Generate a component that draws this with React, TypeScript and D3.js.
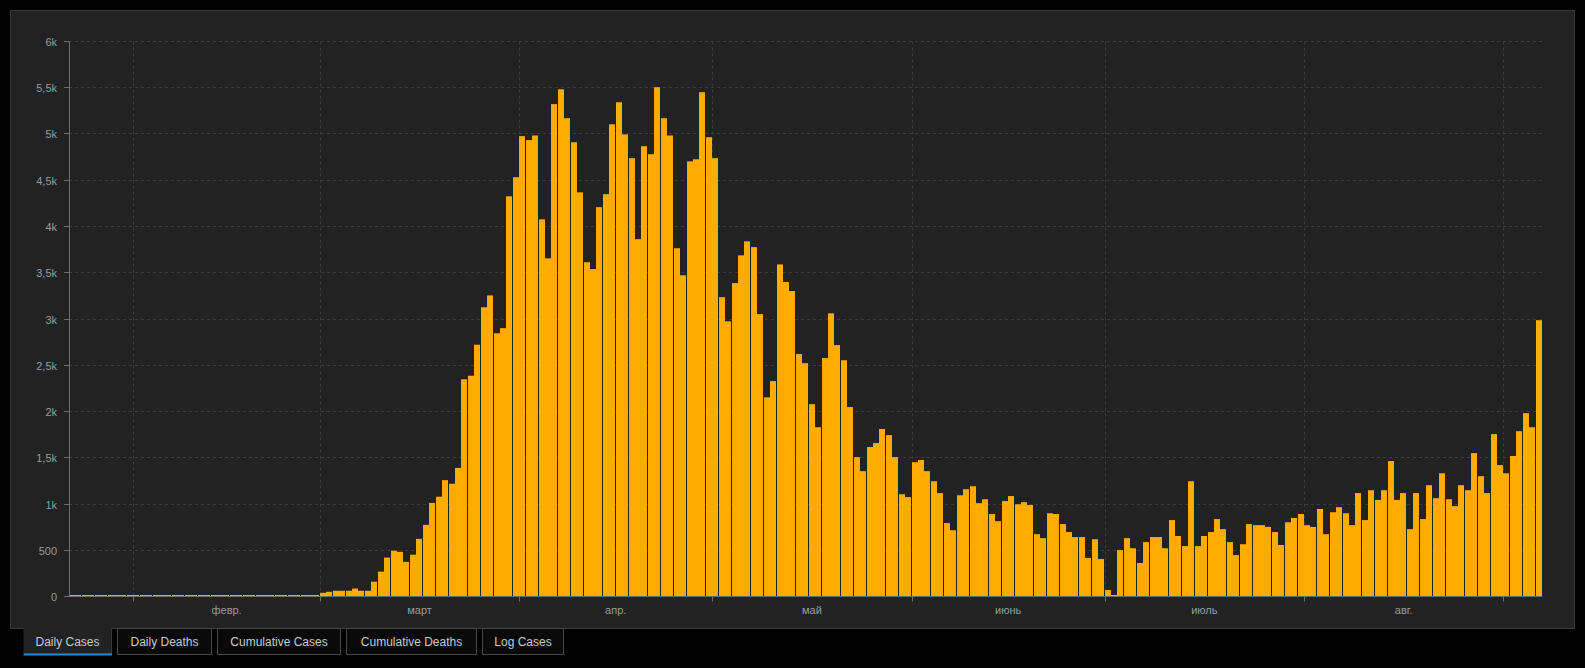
import React from "react";
import * as d3 from "d3";

// Daily cases from 2020-01-22, one value per day
const START_DATE = "2020-01-22";
const dailyCases: number[] = [
  0, 0, 0, 0, 0, 0, 0, 0, 0, 2,
  0, 0, 15, 0, 0, 1, 0, 0, 0, 4,
  0, 1, 0, 0, 0, 0, 0, 0, 0, 0,
  0, 0, 0, 0, 0, 0, 15, 15, 3, 40,
  51, 62, 62, 62, 86, 62, 62, 160, 269, 421,
  495, 483, 374, 452, 623, 775, 1012, 1079, 1258, 1219,
  1390, 2348, 2387, 2722, 3127, 3255, 2846, 2901, 4326, 4533,
  4977, 4934, 4984, 4077, 3656, 5323, 5483, 5171, 4911, 4369,
  3614, 3540, 4209, 4350, 5105, 5343, 4996, 4739, 3863, 4868,
  4782, 5506, 5171, 4984, 3765, 3473, 4704, 4727, 5452, 4965,
  4739, 3236, 2975, 3388, 3688, 3839, 3777, 3053, 2153, 2329,
  3590, 3400, 3302, 2621, 2523, 2079, 1830, 2578, 3061, 2718,
  2554, 2048, 1507, 1355, 1616, 1659, 1811, 1744, 1507, 1106,
  1075, 1452, 1476, 1355, 1246, 1118, 794, 716, 1094, 1160,
  1192, 1009, 1051, 892, 814, 1032, 1086, 997, 1020, 989,
  674, 631, 900, 892, 783, 697, 643, 643, 417, 619,
  405, 70, 16, 502, 631, 522, 362, 588, 643, 643,
  522, 826, 654, 545, 1246, 545, 654, 697, 837, 728,
  588, 448, 565, 783, 771, 771, 752, 697, 557, 802,
  849, 892, 771, 752, 946, 674, 911, 966, 900, 771,
  1118, 826, 1149, 1044, 1149, 1464, 1044, 1118, 728, 1118,
  837, 1203, 1063, 1332, 1051, 977, 1203, 1149, 1550, 1301,
  1118, 1756, 1421, 1332, 1519, 1787, 1982, 1830, 2987,
];

const yTicks: number[] = [0, 500, 1000, 1500, 2000, 2500, 3000, 3500, 4000, 4500, 5000, 5500, 6000];
const monthStarts: string[] = ["2020-02-01", "2020-03-01", "2020-04-01", "2020-05-01", "2020-06-01", "2020-07-01", "2020-08-01", "2020-09-01"];
const monthLabels: string[] = ["февр.", "март", "апр.", "май", "июнь", "июль", "авг."];
const tabLabels: string[] = ["Daily Cases", "Daily Deaths", "Cumulative Cases", "Cumulative Deaths", "Log Cases"];

const W = 1585;
const H = 668;
const PLOT = { left: 69, right: 1542, top: 41.5, bottom: 596.5 };
const PANEL = { x: 10.5, y: 10.5, x2: 1574.5, y2: 628.5 };
const TABS: [number, number][] = [
  [23.5, 111.5],
  [117.5, 211.5],
  [217.5, 340.5],
  [346.5, 476.5],
  [482.5, 563.5],
];

const DAY = 864e5;
const FONT = "'Liberation Sans', Arial, sans-serif";

const ruLocale = d3.formatLocale({ decimal: ",", thousands: "\u00a0", grouping: [3], currency: ["", " ₽"] });
const fmtK = ruLocale.format(",.1~f");
const fmtY = (v: number) => (v >= 1000 ? fmtK(v / 1000) + "k" : String(v));

export default function App() {
  const start = new Date(START_DATE + "T00:00:00Z").getTime();
  const dates = dailyCases.map((_, i) => new Date(start + i * DAY));
  const end = new Date(start + dailyCases.length * DAY);

  const x = d3.scaleUtc().domain([new Date(start), end]).range([PLOT.left, PLOT.right]);
  const y = d3.scaleLinear().domain([0, 6000]).range([PLOT.bottom, PLOT.top]);

  const months = monthStarts.map((s) => new Date(s + "T00:00:00Z"));
  const barBottom = Math.floor(PLOT.bottom);

  return (
    <svg
      width={W}
      height={H}
      style={{ position: "absolute", left: 0, top: 0, display: "block" }}
      fontFamily={FONT}
    >
      <rect x={0} y={0} width={W} height={H} fill="#000" />
      <rect
        x={PANEL.x}
        y={PANEL.y}
        width={PANEL.x2 - PANEL.x}
        height={PANEL.y2 - PANEL.y}
        fill="#222"
        stroke="#3a3a3a"
        strokeWidth={1}
      />

      {/* horizontal gridlines */}
      {yTicks.map((t) => (
        <line
          key={"gy" + t}
          x1={PLOT.left}
          x2={PLOT.right}
          y1={Math.floor(y(t)) + 0.5}
          y2={Math.floor(y(t)) + 0.5}
          stroke="#3c3c3c"
          strokeDasharray="3,3"
        />
      ))}
      {/* vertical gridlines */}
      {months.map((m, i) => {
        const gx = Math.round(x(m)) + 0.5;
        return (
          <line key={"gx" + i} x1={gx} x2={gx} y1={PLOT.top} y2={PLOT.bottom} stroke="#3c3c3c" strokeDasharray="3,3" />
        );
      })}

      {/* bars */}
      {dailyCases.map((v, i) => {
        const x0 = Math.round(x(dates[i]));
        const w = Math.floor(x(new Date(dates[i].getTime() + DAY)) - x(dates[i]));
        const top = Math.min(y(v), barBottom - 1);
        return <rect key={"b" + i} x={x0} y={top} width={w} height={barBottom - top} fill="#ffab00" />;
      })}

      {/* x axis */}
      <line x1={PLOT.left} x2={PLOT.right} y1={PLOT.bottom} y2={PLOT.bottom} stroke="#6e6e6e" />
      {months.map((m, i) => {
        const gx = Math.round(x(m)) + 0.5;
        return <line key={"tx" + i} x1={gx} x2={gx} y1={PLOT.bottom} y2={PLOT.bottom + 5} stroke="#6e6e6e" />;
      })}
      {monthLabels.map((lab, i) => {
        const cx = (x(months[i]) + x(months[i + 1])) / 2;
        return (
          <text key={"lx" + i} x={cx} y={614} textAnchor="middle" fontSize={11} fill="#979ca3">
            {lab}
          </text>
        );
      })}

      {/* y axis */}
      <line x1={PLOT.left + 0.5} x2={PLOT.left + 0.5} y1={PLOT.top} y2={PLOT.bottom} stroke="#6e6e6e" />
      {yTicks.map((t) => {
        const ty = Math.floor(y(t)) + 0.5;
        return (
          <g key={"ty" + t}>
            <line x1={PLOT.left - 5} x2={PLOT.left} y1={ty} y2={ty} stroke="#6e6e6e" />
            <text x={57} y={ty + 4} textAnchor="end" fontSize={11} fill="#979ca3">
              {fmtY(t)}
            </text>
          </g>
        );
      })}

      {/* tabs */}
      {tabLabels.map((lab, i) => {
        const [a, b] = TABS[i];
        const active = i === 0;
        return (
          <g key={"tab" + i}>
            {active ? (
              <>
                <rect x={a} y={PANEL.y2 - 0.5} width={b - a} height={26} fill="#222" />
                <line x1={b} x2={b} y1={PANEL.y2} y2={654} stroke="#3a3a3a" />
                <rect x={a} y={653.5} width={b - a + 0.5} height={2} fill="#2589e0" />
              </>
            ) : (
              <rect x={a} y={PANEL.y2} width={b - a} height={26} fill="#0a0a0a" stroke="#474747" />
            )}
            <text x={(a + b) / 2} y={645.5} textAnchor="middle" fontSize={12} fill="#c4cad0">
              {lab}
            </text>
          </g>
        );
      })}
    </svg>
  );
}
